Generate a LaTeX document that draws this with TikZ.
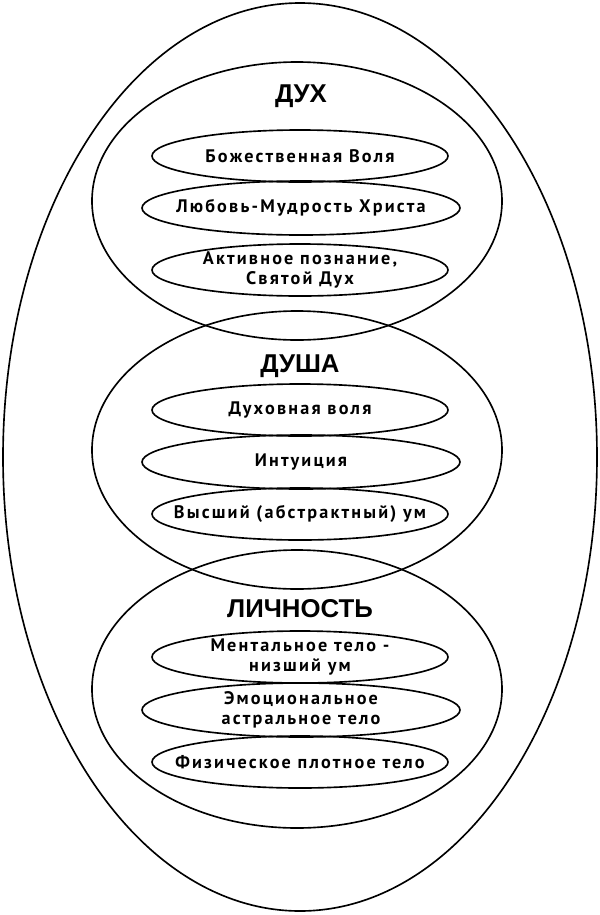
\documentclass[tikz,border=0pt]{standalone}
\usepackage{fontspec}
\setmainfont{PT Sans}
\newfontfamily\itemfont[LetterSpace=12]{PT Sans}
\newfontfamily\headfont{Liberation Sans}

\tikzset{
    ring/.style={draw=black, line width=1.4pt},
    head/.style={font=\headfont\bfseries\fontsize{22}{24}\selectfont, inner sep=0pt},
    part/.style={inner sep=0pt, align=center,
        font=\itemfont\bfseries\fontsize{15.5}{17}\selectfont}
}

\begin{document}
\begin{tikzpicture}[x=0.03cm, y=-0.03cm]
    % Fix the page to the reference size (600 x 915 px)
    \useasboundingbox (0,0) rectangle (600,915);

    % Outer egg
    \draw[ring] (300,457) ellipse (297 and 454);

    % Three large circles
    \draw[ring] (297,201) ellipse (205 and 139);
    \draw[ring] (297,450) ellipse (205 and 139);
    \draw[ring] (297,689) ellipse (205 and 139);

    % Spirit
    \node[head] (spirit) at (301,96) {ДУХ};
    \node[part] (will) at (300,156) {Божественная Воля};
    \node[part] (love) at (301,208) {Любовь-Мудрость Христа};
    \node[part] (mind) at (300,270) {Активное познание,\\Святой Дух};

    % Soul
    \node[head] (soul) at (300,366) {ДУША};
    \node[part] (swill) at (300,410) {Духовная воля};
    \node[part] (intu)  at (301,462) {Интуиция};
    \node[part] (high)  at (300,514) {Высший (абстрактный) ум};

    % Personality
    \node[head] (pers) at (300,609) {ЛИЧНОСТЬ};
    \node[part] (ment) at (300,657) {Ментальное тело -\\низший ум};
    \node[part] (emo)  at (301,710) {Эмоциональное\\астральное тело};
    \node[part] (phys) at (300,762) {Физическое плотное тело};

    % Small ellipses round the labels
    \foreach \n in {will, mind, swill, high, ment, phys}
        \draw[ring] (\n.center) ellipse (148 and 26);
    \foreach \n in {love, intu, emo}
        \draw[ring] (\n.center) ellipse (159 and 27);

\end{tikzpicture}
\end{document}
